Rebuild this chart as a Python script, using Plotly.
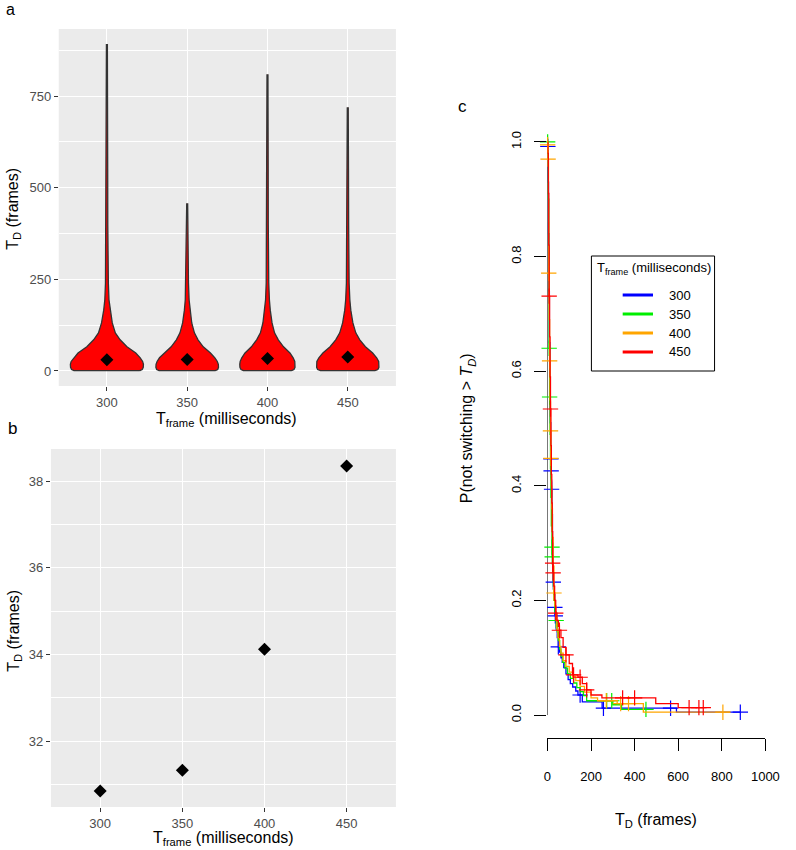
import plotly.graph_objects as go

W, H = 796, 850
FONT = "Liberation Sans, Arial, Helvetica, sans-serif"

# ---------------- data ----------------
categories = ["300", "350", "400", "450"]
cat_pos = [1, 2, 3, 4]
mean_td = [30.85, 31.33, 34.12, 38.35]

# violin outlines (frames level -> half-width in category units)
v300_levels = [1, 4, 10, 18, 26, 36, 49, 66, 85, 104, 131, 166, 194, 240, 300, 400, 550, 700, 890]
v300_half = [0.41, 0.44, 0.453, 0.455, 0.445, 0.415, 0.36, 0.25, 0.165, 0.105, 0.067, 0.04, 0.026, 0.018, 0.013, 0.011, 0.01, 0.009, 0.006]
v350_levels = [1, 4, 10, 18, 26, 36, 49, 66, 85, 104, 131, 166, 194, 240, 300, 380, 456]
v350_half = [0.35, 0.38, 0.39, 0.388, 0.375, 0.345, 0.29, 0.2, 0.135, 0.09, 0.057, 0.035, 0.024, 0.016, 0.012, 0.01, 0.006]
v400_levels = [1, 4, 10, 18, 26, 36, 49, 66, 85, 104, 131, 166, 194, 240, 300, 400, 550, 700, 808]
v400_half = [0.30, 0.33, 0.343, 0.345, 0.34, 0.32, 0.28, 0.2, 0.135, 0.088, 0.057, 0.035, 0.024, 0.016, 0.012, 0.01, 0.009, 0.008, 0.006]
v450_levels = [1, 4, 10, 18, 26, 36, 49, 66, 85, 104, 131, 166, 194, 240, 300, 400, 550, 718]
v450_half = [0.34, 0.375, 0.388, 0.39, 0.385, 0.36, 0.31, 0.22, 0.15, 0.1, 0.064, 0.038, 0.026, 0.017, 0.013, 0.011, 0.009, 0.006]

# Kaplan-Meier step curves (time in frames, survival) and censor marks
km300_t = [0, 1, 3, 5, 7, 9, 11, 13, 15, 16, 17, 18, 19, 21, 23, 25, 27, 30, 34, 36, 40, 45, 50, 56, 62, 68, 75, 85, 95, 105, 116, 130, 140, 160, 251, 592, 885]
km300_s = [1.0, 0.992, 0.93, 0.84, 0.74, 0.65, 0.57, 0.51, 0.465, 0.447, 0.426, 0.41, 0.394, 0.35, 0.3, 0.26, 0.232, 0.21, 0.188, 0.173, 0.15, 0.135, 0.119, 0.11, 0.1, 0.092, 0.083, 0.072, 0.062, 0.055, 0.049, 0.042, 0.035, 0.023, 0.012, 0.005, 0.005]
km300_ct = [2, 16, 17, 19, 27, 34, 36, 50, 150, 257, 565, 885]
km300_cs = [0.992, 0.447, 0.426, 0.394, 0.232, 0.188, 0.173, 0.119, 0.035, 0.012, 0.012, 0.005]

km350_t = [0, 2, 4, 6, 8, 10, 12, 14, 16, 18, 21, 22, 24, 27, 30, 34, 40, 45, 50, 56, 62, 70, 80, 92, 105, 120, 135, 150, 165, 180, 300, 340, 452]
km350_s = [1.0, 0.975, 0.9, 0.78, 0.64, 0.555, 0.49, 0.43, 0.38, 0.33, 0.293, 0.276, 0.25, 0.225, 0.2, 0.18, 0.165, 0.145, 0.13, 0.115, 0.103, 0.092, 0.082, 0.072, 0.064, 0.056, 0.048, 0.041, 0.034, 0.025, 0.018, 0.01, 0.01]
km350_ct = [1, 8, 10, 21, 22, 40, 272, 295, 452]
km350_cs = [1.0, 0.64, 0.555, 0.293, 0.276, 0.165, 0.025, 0.025, 0.01]

km400_t = [0, 1, 3, 5, 6, 8, 10, 12, 14, 16, 18, 20, 23, 26, 30, 34, 38, 43, 48, 55, 62, 72, 85, 100, 115, 130, 150, 170, 200, 230, 320, 440, 838]
km400_s = [1.0, 0.995, 0.97, 0.86, 0.771, 0.69, 0.618, 0.55, 0.496, 0.448, 0.4, 0.36, 0.31, 0.26, 0.213, 0.19, 0.17, 0.15, 0.135, 0.12, 0.108, 0.095, 0.085, 0.075, 0.067, 0.06, 0.05, 0.04, 0.03, 0.025, 0.02, 0.005, 0.005]
km400_ct = [1, 3, 6, 10, 14, 16, 30, 270, 336, 372, 805]
km400_cs = [0.995, 0.97, 0.771, 0.618, 0.496, 0.448, 0.213, 0.025, 0.02, 0.02, 0.005]

km450_t = [0, 2, 4, 6, 8, 10, 12, 14, 16, 18, 20, 22, 24, 26, 29, 33, 38, 44, 50, 55, 62, 72, 85, 100, 115, 140, 160, 180, 200, 250, 497, 600, 720]
km450_s = [1.0, 0.98, 0.91, 0.82, 0.731, 0.66, 0.59, 0.534, 0.47, 0.42, 0.37, 0.32, 0.265, 0.248, 0.225, 0.2, 0.178, 0.165, 0.155, 0.148, 0.135, 0.118, 0.105, 0.09, 0.07, 0.066, 0.055, 0.044, 0.035, 0.03, 0.02, 0.013, 0.013]
km450_ct = [8, 14, 24, 26, 38, 55, 85, 120, 150, 180, 345, 400, 650, 695, 715]
km450_cs = [0.731, 0.534, 0.265, 0.248, 0.178, 0.148, 0.105, 0.07, 0.066, 0.044, 0.03, 0.03, 0.013, 0.013, 0.013]

legend_labels = ["300", "350", "400", "450"]
km_colors = ["#0000FF", "#00EE00", "#FFA500", "#FF0000"]

# ---------------- helpers ----------------
def px_x(p):
    return p / W

def px_y(p):
    return 1 - p / H

fig = go.Figure()

# Panel a: violins
violins = [(v300_levels, v300_half), (v350_levels, v350_half),
           (v400_levels, v400_half), (v450_levels, v450_half)]
for pos, (lv, hw) in zip(cat_pos, violins):
    xs = [pos + h for h in hw] + [pos - h for h in reversed(hw)] + [pos + hw[0]]
    ys = list(lv) + list(reversed(lv)) + [lv[0]]
    fig.add_trace(go.Scatter(x=xs, y=ys, mode="lines", fill="toself",
                             fillcolor="#FF0000", line=dict(color="#333333", width=1.3),
                             xaxis="x", yaxis="y", showlegend=False, hoverinfo="skip"))
fig.add_trace(go.Scatter(x=cat_pos, y=mean_td, mode="markers",
                         marker=dict(symbol="diamond", size=10, color="black"),
                         xaxis="x", yaxis="y", showlegend=False))

# Panel b: means
fig.add_trace(go.Scatter(x=cat_pos, y=mean_td, mode="markers",
                         marker=dict(symbol="diamond", size=10, color="black"),
                         xaxis="x2", yaxis="y2", showlegend=False))

# Panel c: KM curves
kms = [(km300_t, km300_s, km300_ct, km300_cs), (km350_t, km350_s, km350_ct, km350_cs),
       (km400_t, km400_s, km400_ct, km400_cs), (km450_t, km450_s, km450_ct, km450_cs)]
for (t, s, ct, cs), col, lab in zip(kms, km_colors, legend_labels):
    fig.add_trace(go.Scatter(x=t, y=s, mode="lines", line=dict(color=col, width=1.3, shape="hv"),
                             xaxis="x3", yaxis="y3", showlegend=False, name=lab))
    fig.add_trace(go.Scatter(x=ct, y=cs, mode="markers", cliponaxis=False,
                             marker=dict(symbol="cross-thin", size=11,
                                         line=dict(color=col, width=1.2)),
                             xaxis="x3", yaxis="y3", showlegend=False, name=lab))

# ---------------- axes ----------------
gg_tick = dict(ticks="outside", ticklen=4, tickwidth=1, tickcolor="#333333",
               tickfont=dict(family=FONT, size=13, color="#4D4D4D"),
               showgrid=True, gridcolor="white", gridwidth=1.4, zeroline=False, showline=False)

fig.update_layout(
    xaxis=dict(domain=[px_x(56), px_x(401)], anchor="y", range=[0.4, 4.6],
               tickvals=cat_pos, ticktext=categories, **gg_tick),
    yaxis=dict(domain=[px_y(386), px_y(29)], anchor="x", range=[-41, 933],
               tickvals=[0, 250, 500, 750],
               minor=dict(tickvals=[125, 375, 625, 875], showgrid=True, gridcolor="white", gridwidth=0.7, ticks=""),
               **gg_tick),
    xaxis2=dict(domain=[px_x(48), px_x(401)], anchor="y2", range=[0.4, 4.6],
                tickvals=cat_pos, ticktext=categories, **gg_tick),
    yaxis2=dict(domain=[px_y(807), px_y(449)], anchor="x2", range=[30.48, 38.74],
                tickvals=[32, 34, 36, 38],
                minor=dict(tickvals=[31, 33, 35, 37], showgrid=True, gridcolor="white", gridwidth=0.7, ticks=""),
                **gg_tick),
    xaxis3=dict(domain=[px_x(556), px_x(779)], anchor="y3", range=[0, 1000],
                tickvals=[0, 200, 400, 600, 800, 1000], ticks="outside", ticklen=12,
                tickwidth=1, tickcolor="black", showline=True, linecolor="black", linewidth=1,
                showgrid=False, zeroline=False, ticklabelstandoff=14,
                tickfont=dict(family=FONT, size=13, color="black")),
    yaxis3=dict(domain=[px_y(738), px_y(119)], anchor="x3", range=[-0.04, 1.04],
                tickvals=[0, 0.2, 0.4, 0.6, 0.8, 1.0],
                ticktext=["0.0", "0.2", "0.4", "0.6", "0.8", "1.0"],
                ticks="outside", ticklen=12, tickwidth=1, tickcolor="black",
                showline=False, showgrid=False, zeroline=False, tickangle=-90,
                ticklabelstandoff=8,
                tickfont=dict(family=FONT, size=13, color="black")),
)

shapes = [
    dict(type="rect", xref="x domain", yref="y domain", x0=0, x1=1, y0=0, y1=1,
         fillcolor="#EBEBEB", line=dict(width=0), layer="below"),
    dict(type="rect", xref="x2 domain", yref="y2 domain", x0=0, x1=1, y0=0, y1=1,
         fillcolor="#EBEBEB", line=dict(width=0), layer="below"),
    # y axis line of panel c (spans 0..1 only, as in base R)
    dict(type="line", xref="x3", yref="y3", x0=0, x1=0, y0=0, y1=1,
         line=dict(color="black", width=1), layer="below"),
    # legend box
    dict(type="rect", xref="paper", yref="paper", x0=px_x(601), x1=px_x(727),
         y0=px_y(371), y1=px_y(256), line=dict(color="black", width=1), fillcolor="white"),
]
leg_y = [295, 314, 333, 352]
for col, yy in zip(km_colors, leg_y):
    shapes.append(dict(type="line", xref="paper", yref="paper", x0=px_x(633), x1=px_x(664),
                       y0=px_y(yy), y1=px_y(yy), line=dict(color=col, width=3)))

annotations = []
def ann(text, x, y, size, angle=0, anchor="center", color="black"):
    annotations.append(dict(text=text, x=px_x(x), y=px_y(y), xref="paper", yref="paper",
                            showarrow=False, xanchor=anchor, yanchor="middle", textangle=angle,
                            font=dict(family=FONT, size=size, color=color)))

ann("a", 7, 9, 16)
ann("b", 9, 428, 17)
ann("c", 469, 107, 17)
ann("T<sub>D</sub> (frames)", 10, 209, 16, angle=-90)
ann("T<sub>frame</sub> (milliseconds)", 228, 419, 16)
ann("T<sub>D</sub> (frames)", 10, 631, 16, angle=-90)
ann("T<sub>frame</sub> (milliseconds)", 225, 838, 16)
ann("T<sub>D</sub> (frames)", 667, 820, 16)
ann("P(not switching &gt; <i>T<sub>D</sub></i>)", 474, 428, 16, angle=-90)
ann("T<sub>frame</sub> (milliseconds)", 605, 268, 13, anchor="left")
for lab, yy in zip(legend_labels, leg_y):
    ann(lab, 678, yy, 13, anchor="left")

fig.update_layout(width=W, height=H, autosize=False, margin=dict(l=0, r=0, t=0, b=0, pad=0),
                  paper_bgcolor="white", plot_bgcolor="rgba(0,0,0,0)",
                  showlegend=False, shapes=shapes, annotations=annotations,
                  font=dict(family=FONT))

fig.write_html("out.html", config={"displayModeBar": False},
               post_script="document.body.style.margin='0';document.body.style.padding='0';")
